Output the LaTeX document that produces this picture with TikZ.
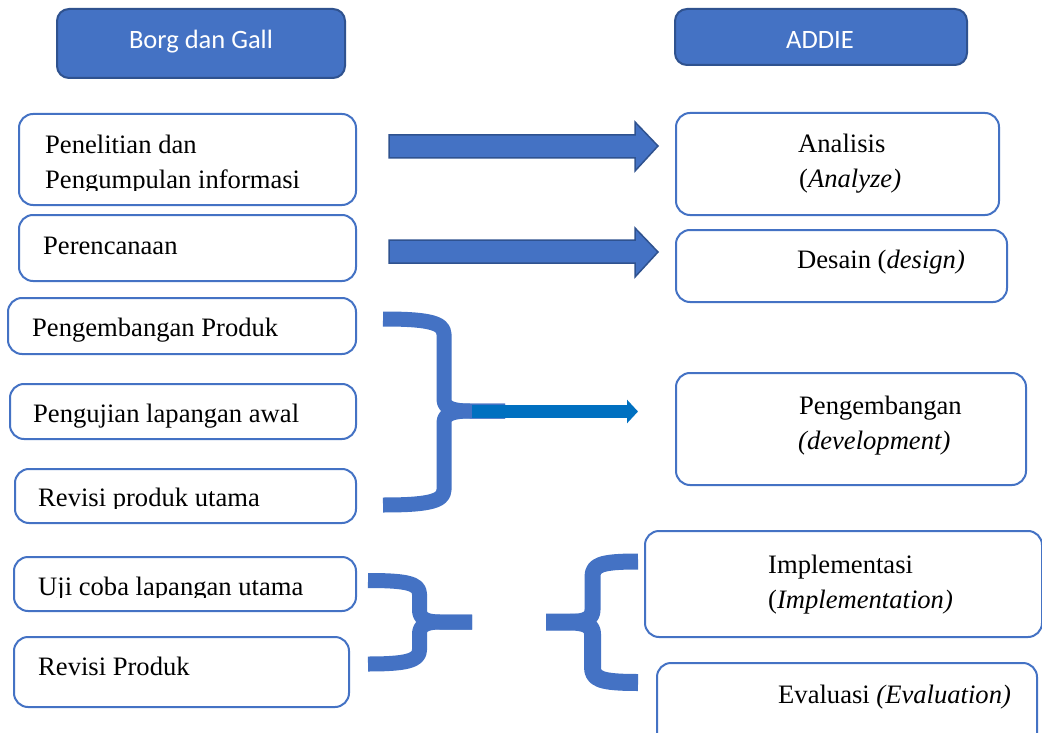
\documentclass[tikz,border=0pt]{standalone}
\usepackage{fontspec}
\setmainfont{Liberation Serif}
\newfontfamily\hdrfont{Carlito}
\usetikzlibrary{arrows.meta}
\definecolor{mblue}{HTML}{4472C4}
\definecolor{dblue}{HTML}{2F528F}
\definecolor{ablue}{HTML}{0070C0}
\tikzset{
  box/.style={draw=mblue, line width=2pt, rounded corners=14pt, fill=white, inner sep=0pt},
  hdr/.style={draw=dblue, fill=mblue, line width=2pt, rounded corners=12pt, inner sep=0pt},
  hdrtxt/.style={anchor=base, inner sep=0pt, text=white, font=\hdrfont\fontsize{26.5}{30}\selectfont},
  txt/.style={anchor=base west, inner sep=0pt, font=\fontsize{26.6}{30}\selectfont},
  blockarrow/.style={fill=mblue, draw=dblue, line width=1.5pt, line join=miter},
  brace/.style={draw=mblue, line width=15pt, line join=round},
  midarrow/.style={draw=ablue, line width=13pt, -{Triangle[length=11pt,width=23pt]}}
}
\begin{document}
\begin{tikzpicture}[x=1pt,y=-1pt]
\clip (0,0) rectangle (1042,733);
\fill[white] (0,0) rectangle (1042,733);

% headers
\node[hdr, minimum width=288pt, minimum height=69pt] (h1) at (201,43.5) {};
\node[hdrtxt] (h1t) at (201,49) {Borg dan Gall};
\node[hdr, minimum width=292pt, minimum height=56pt] (h2) at (821,37) {};
\node[hdrtxt] (h2t) at (820,49) {ADDIE};

% left boxes
\node[box, minimum width=337pt, minimum height=91pt] (b1) at (187.5,159.5) {};
\node[box, minimum width=337pt, minimum height=66pt] (b2) at (187.5,248) {};
\node[box, minimum width=348pt, minimum height=56pt] (b3) at (182,326) {};
\node[box, minimum width=346pt, minimum height=55pt] (b4) at (183,411.5) {};
\node[box, minimum width=341pt, minimum height=54pt] (b5) at (185.5,496) {};
\node[box, minimum width=342pt, minimum height=54pt] (b6) at (185,584) {};
\node[box, minimum width=335pt, minimum height=70pt] (b7) at (181.5,672) {};

% right boxes
\node[box, minimum width=323pt, minimum height=102pt] (r1) at (837.5,164) {};
\node[box, minimum width=331pt, minimum height=72pt] (r2) at (841.5,266) {};
\node[box, minimum width=350pt, minimum height=112pt] (r3) at (851,429) {};
\node[box, minimum width=397pt, minimum height=106pt] (r4) at (843.5,584) {};
\node[box, minimum width=380pt, minimum height=97pt] (r5) at (847,711.5) {};

% left texts
\node[txt] (t1a) at (45,154) {Penelitian dan};
\begin{scope}
\clip (0,0) rectangle (400,190.5);
\node[txt] (t1b) at (45,189) {Pengumpulan informasi};
\end{scope}
\node[txt] (t2) at (43,254) {Perencanaan};
\node[txt] (t3) at (32,336) {Pengembangan Produk};
\node[txt] (t4) at (33,422) {Pengujian lapangan awal};
\begin{scope}
\clip (0,0) rectangle (400,508);
\node[txt] (t5) at (38,506) {Revisi produk utama};
\end{scope}
\begin{scope}
\clip (0,0) rectangle (400,597);
\node[txt] (t6) at (38,595) {Uji coba lapangan utama};
\end{scope}
\node[txt] (t7) at (38,675) {Revisi Produk};

% right texts
\node[txt] (u1a) at (798,153) {Analisis};
\node[txt] (u1b) at (799,188) {(\textit{Analyze)}};
\node[txt] (u2) at (797,268) {Desain (\textit{design)}};
\node[txt] (u3a) at (799,414) {Pengembangan};
\node[txt] (u3b) at (798,449) {\textit{(development)}};
\node[txt] (u4a) at (768,573) {Implementasi};
\node[txt] (u4b) at (768,608) {(\textit{Implementation)}};
\node[txt] (u5) at (778,703) {Evaluasi \textit{(Evaluation)}};

% block arrows
\draw[blockarrow] (389,135) -- (635,135) -- (635,122) -- (658,146) -- (635,171) -- (635,158) -- (389,158) -- cycle;
\draw[blockarrow] (389,240) -- (635,240) -- (635,228) -- (658,252) -- (635,277) -- (635,263) -- (389,263) -- cycle;

% brace 1
\draw[brace] (383,319) .. controls (425,319) and (444,322) .. (444,334) -- (444,399) .. controls (444,407) and (450,411) .. (470,411) -- (505,411);
\draw[brace] (383,505) .. controls (425,505) and (444,502) .. (444,490) -- (444,423) .. controls (444,415) and (450,411) .. (470,411) -- (505,411);
\coordinate (ma) at (472,411.5);
\coordinate (mb) at (638,411.5);
\draw[midarrow] (ma) -- (mb);

% brace 2
\draw[brace] (368,580.5) .. controls (405,580.5) and (419.5,583) .. (419.5,594) -- (419.5,610) .. controls (419.5,618) and (425,622) .. (440,622) -- (472,622);
\draw[brace] (368,664) .. controls (405,664) and (419.5,661) .. (419.5,650) -- (419.5,634) .. controls (419.5,626) and (425,622) .. (440,622) -- (472,622);

% brace 3
\draw[brace, line width=16pt] (638,561.5) .. controls (600,561.5) and (592.5,565) .. (592.5,577) -- (592.5,610) .. controls (592.5,618) and (586,622) .. (570,622) -- (546,622);
\draw[brace, line width=17pt] (638,682.5) .. controls (600,682.5) and (592.5,679) .. (592.5,667) -- (592.5,634) .. controls (592.5,626) and (586,622) .. (570,622) -- (546,622);
\end{tikzpicture}
\end{document}
